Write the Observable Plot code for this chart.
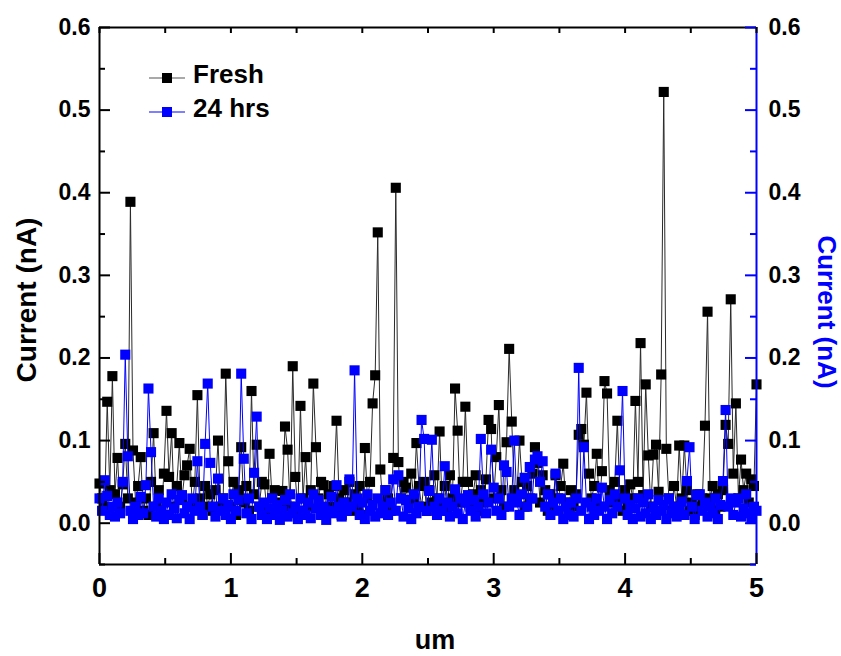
<!DOCTYPE html>
<html>
<head>
<meta charset="utf-8">
<script src="https://cdn.jsdelivr.net/npm/d3@7"></script>
<script src="https://cdn.jsdelivr.net/npm/@observablehq/plot@0.6"></script>
<style>
  html, body { margin: 0; padding: 0; background: #fff; }
  #chart { width: 841px; height: 656px; }
</style>
</head>
<body>
<div id="chart"></div>
<script>
// ---- data ----
const seriesNames = ["Fresh", "24 hrs"];
const xStart = 0, xEnd = 5;            // scan range in um, 256 samples
const fresh = [
  0.048,0.030,0.020,0.147,0.040,0.178,0.035,0.079,0.020,0.047,0.096,0.030,0.389,0.088,0.025,0.045,
  0.080,0.015,0.030,0.010,0.050,0.109,0.020,0.040,0.015,0.060,0.136,0.056,0.109,0.020,0.045,0.097,
  0.030,0.058,0.070,0.090,0.020,0.050,0.155,0.030,0.010,0.045,0.020,0.035,0.015,0.040,0.100,0.020,
  0.030,0.181,0.075,0.020,0.050,0.010,0.040,0.092,0.025,0.045,0.015,0.160,0.035,0.095,0.020,0.050,
  0.047,0.015,0.084,0.030,0.040,0.010,0.025,0.039,0.117,0.089,0.020,0.190,0.056,0.015,0.142,0.030,
  0.080,0.020,0.040,0.169,0.092,0.030,0.050,0.046,0.015,0.035,0.020,0.045,0.124,0.030,0.010,0.040,
  0.025,0.050,0.015,0.035,0.020,0.045,0.010,0.091,0.030,0.050,0.145,0.179,0.352,0.065,0.020,0.040,
  0.030,0.015,0.079,0.406,0.074,0.030,0.050,0.043,0.020,0.060,0.030,0.097,0.045,0.020,0.050,0.015,
  0.040,0.025,0.058,0.030,0.111,0.020,0.045,0.015,0.058,0.030,0.163,0.112,0.025,0.050,0.141,0.050,
  0.020,0.035,0.058,0.015,0.040,0.025,0.053,0.125,0.114,0.030,0.080,0.143,0.040,0.020,0.098,0.211,
  0.123,0.040,0.030,0.100,0.050,0.020,0.045,0.030,0.060,0.092,0.073,0.025,0.058,0.040,0.015,0.035,
  0.020,0.058,0.030,0.045,0.072,0.025,0.010,0.040,0.020,0.035,0.107,0.114,0.095,0.158,0.060,0.030,
  0.045,0.084,0.020,0.063,0.172,0.157,0.040,0.025,0.050,0.124,0.030,0.015,0.040,0.020,0.047,0.030,
  0.148,0.050,0.218,0.034,0.168,0.082,0.020,0.083,0.095,0.038,0.180,0.522,0.090,0.030,0.015,0.045,
  0.020,0.094,0.030,0.094,0.040,0.015,0.025,0.010,0.035,0.020,0.030,0.118,0.256,0.030,0.045,0.015,
  0.035,0.020,0.040,0.119,0.096,0.271,0.060,0.145,0.030,0.077,0.040,0.060,0.025,0.053,0.045,0.168
];
const hrs24 = [
  0.030,0.015,0.052,0.033,0.010,0.020,0.008,0.025,0.012,0.050,0.204,0.081,0.015,0.005,0.020,0.010,
  0.032,0.012,0.046,0.163,0.086,0.020,0.008,0.030,0.015,0.005,0.025,0.010,0.035,0.018,0.006,0.028,
  0.034,0.012,0.020,0.005,0.030,0.015,0.075,0.020,0.010,0.096,0.169,0.073,0.020,0.008,0.054,0.015,
  0.030,0.010,0.022,0.005,0.035,0.015,0.028,0.181,0.078,0.012,0.030,0.005,0.061,0.129,0.020,0.010,
  0.025,0.005,0.018,0.030,0.010,0.022,0.004,0.015,0.028,0.008,0.035,0.012,0.020,0.005,0.030,0.015,
  0.010,0.025,0.006,0.035,0.018,0.028,0.010,0.020,0.004,0.015,0.032,0.012,0.046,0.020,0.008,0.025,
  0.015,0.053,0.020,0.185,0.030,0.010,0.025,0.005,0.035,0.015,0.022,0.008,0.030,0.012,0.020,0.040,
  0.010,0.025,0.053,0.015,0.058,0.030,0.008,0.028,0.018,0.005,0.035,0.012,0.020,0.125,0.102,0.015,
  0.039,0.101,0.020,0.010,0.030,0.015,0.069,0.025,0.008,0.020,0.041,0.012,0.030,0.005,0.025,0.034,
  0.015,0.028,0.008,0.020,0.102,0.035,0.012,0.025,0.089,0.043,0.015,0.030,0.010,0.070,0.062,0.020,
  0.030,0.100,0.025,0.010,0.035,0.055,0.020,0.068,0.030,0.077,0.081,0.050,0.075,0.020,0.035,0.010,
  0.025,0.060,0.015,0.030,0.005,0.020,0.010,0.025,0.008,0.030,0.188,0.015,0.092,0.025,0.005,0.020,
  0.010,0.030,0.015,0.043,0.020,0.005,0.028,0.012,0.035,0.020,0.064,0.160,0.030,0.010,0.022,0.005,
  0.018,0.030,0.008,0.025,0.012,0.035,0.005,0.020,0.010,0.028,0.015,0.022,0.005,0.030,0.012,0.020,
  0.008,0.018,0.026,0.010,0.051,0.092,0.020,0.005,0.034,0.035,0.015,0.025,0.008,0.020,0.012,0.030,
  0.005,0.022,0.051,0.137,0.020,0.030,0.010,0.025,0.030,0.008,0.018,0.035,0.012,0.005,0.020,0.015
];
const xTickLabels = [0, 1, 2, 3, 4, 5];
const xMinorTicks = [0.5, 1.5, 2.5, 3.5, 4.5];
const yTickLabels = [0.0, 0.1, 0.2, 0.3, 0.4, 0.5, 0.6];
const yMinorTicks = [-0.05, 0.05, 0.15, 0.25, 0.35, 0.45, 0.55];
const xTitle = "um";
const yTitle = "Current (nA)";

// ---- build tables ----
const step = (xEnd - xStart) / (fresh.length - 1);
const freshData = fresh.map((v, i) => ({x: xStart + i * step, y: v}));
const hrsData = hrs24.map((v, i) => ({x: xStart + i * step, y: v}));

const W = 841, H = 656, mL = 99, mR = 85, mT = 27, mB = 92;
const pw = W - mL - mR, ph = H - mT - mB;
const BLUE = "#0000ff";
const font = "'Liberation Sans', Arial, sans-serif";

const chart = Plot.plot({
  width: W, height: H,
  marginLeft: mL, marginRight: mR, marginTop: mT, marginBottom: mB,
  x: {domain: [xStart, xEnd]},
  y: {domain: [-0.05, 0.6]},
  style: {fontFamily: font, fontWeight: "bold", background: "#fff", color: "#000", overflow: "visible"},
  marks: [
    // series
    Plot.lineY(freshData, {x: "x", y: "y", stroke: "#2a2a2a", strokeWidth: 1}),
    Plot.dot(freshData, {x: "x", y: "y", symbol: "square", r: 5.7, fill: "#000", stroke: "none"}),
    Plot.lineY(hrsData, {x: "x", y: "y", stroke: BLUE, strokeWidth: 1}),
    Plot.dot(hrsData, {x: "x", y: "y", symbol: "square", r: 5.7, fill: BLUE, stroke: "none"}),
    // frame
    Plot.ruleY([0.6], {stroke: "#000", strokeWidth: 2}),
    Plot.ruleY([-0.05], {stroke: "#000", strokeWidth: 2}),
    Plot.ruleX([xStart], {stroke: "#000", strokeWidth: 2}),
    Plot.ruleX([xEnd], {stroke: BLUE, strokeWidth: 2}),
    // inward ticks: left
    Plot.tickY(yTickLabels, {y: d => d, stroke: "#000", strokeWidth: 2, insetRight: pw - 11}),
    Plot.tickY(yMinorTicks, {y: d => d, stroke: "#000", strokeWidth: 2, insetRight: pw - 6}),
    // right (blue)
    Plot.tickY(yTickLabels, {y: d => d, stroke: BLUE, strokeWidth: 2, insetLeft: pw - 11}),
    Plot.tickY(yMinorTicks, {y: d => d, stroke: BLUE, strokeWidth: 2, insetLeft: pw - 6}),
    // bottom
    Plot.tickX(xTickLabels, {x: d => d, stroke: "#000", strokeWidth: 2, insetTop: ph - 11}),
    Plot.tickX(xMinorTicks, {x: d => d, stroke: "#000", strokeWidth: 2, insetTop: ph - 6}),
    // top
    Plot.tickX(xTickLabels.concat(xMinorTicks), {x: d => d, stroke: "#000", strokeWidth: 2, insetBottom: ph - 6}),
    // tick labels
    Plot.axisY({anchor: "left", ticks: yTickLabels, tickSize: 0, tickPadding: 9, tickFormat: d => d.toFixed(1), fontSize: 23, label: null}),
    Plot.axisY({anchor: "right", ticks: yTickLabels, tickSize: 0, tickPadding: 12, tickFormat: d => d.toFixed(1), fontSize: 23, label: null}),
    Plot.axisX({anchor: "bottom", ticks: xTickLabels, tickSize: 0, tickPadding: 13, tickFormat: d => String(d), fontSize: 27, label: null}),
    // axis titles
    Plot.text([yTitle], {text: d => d, frameAnchor: "left", textAnchor: "middle", rotate: -90, dx: -72, dy: 4, fontSize: 28, fill: "#000"}),
    Plot.text([yTitle], {text: d => d, frameAnchor: "right", textAnchor: "middle", rotate: 90, dx: 70, dy: 16, fontSize: 26, fill: BLUE}),
    Plot.text([xTitle], {text: d => d, frameAnchor: "bottom", dx: 7, dy: 84, fontSize: 27, fill: "#000"})
  ]
});

// legend inside the plot (top-left)
const svg = d3.select(chart);
const legend = svg.append("g").attr("font-family", font).attr("font-weight", "bold").attr("text-anchor", "start");
const legendRows = [
  {name: seriesNames[0], line: "#555", fill: "#000", y: 78},
  {name: seriesNames[1], line: BLUE, fill: BLUE, y: 112}
];
legendRows.forEach(r => {
  legend.append("line").attr("x1", 149).attr("x2", 185).attr("y1", r.y).attr("y2", r.y)
    .attr("stroke", r.line).attr("stroke-width", 1.2);
  legend.append("rect").attr("x", 162).attr("y", r.y - 5).attr("width", 10).attr("height", 10).attr("fill", r.fill);
  legend.append("text").attr("x", 193).attr("y", r.y + 5)
    .attr("font-size", 26).attr("fill", "#000").text(r.name);
});

document.getElementById("chart").appendChild(chart);
</script>
</body>
</html>
